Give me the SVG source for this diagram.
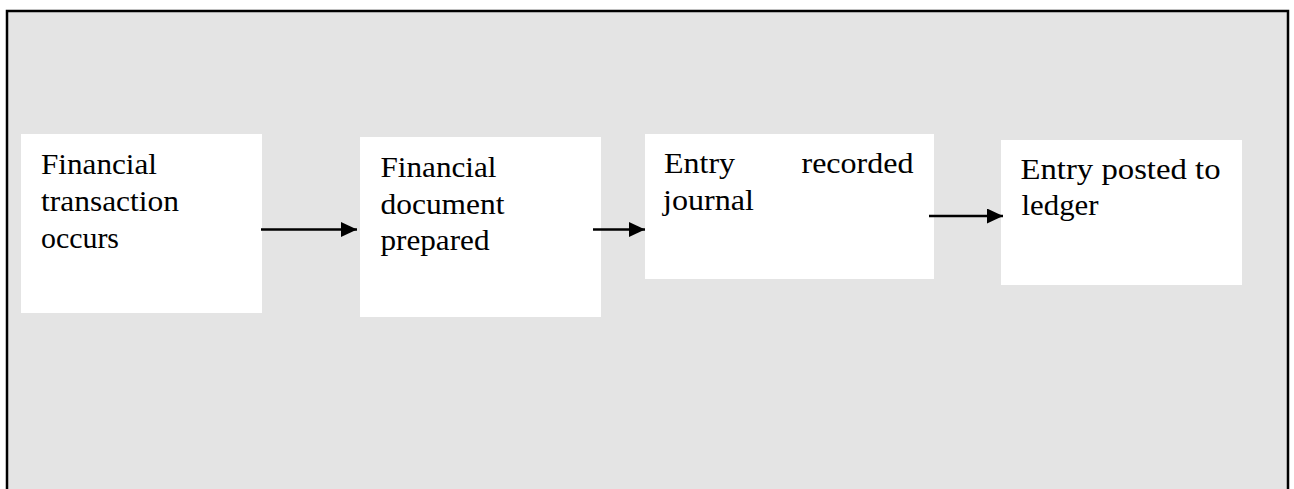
<svg xmlns="http://www.w3.org/2000/svg" width="1294" height="489" viewBox="0 0 1294 489">
<defs>
<style>
.node rect{fill:#ffffff;stroke:none}
.conn line{stroke:#000000;stroke-width:2.5}
</style>
<marker id="arrow" markerUnits="userSpaceOnUse" markerWidth="16" markerHeight="15" refX="16" refY="7.5" orient="auto">
<path d="M0,0 L16,7.5 L0,15 Z" fill="#000000"/>
</marker>
</defs>
<rect x="0" y="0" width="1294" height="489" fill="#ffffff"/>
<rect id="frame" x="7" y="11" width="1281" height="500" fill="#e4e4e4" stroke="#000000" stroke-width="2.5"/>
<g font-family="Times New Roman, Liberation Serif, serif" font-size="30" fill="#000000">
<g id="n1" class="node">
<rect x="21" y="134" width="241" height="179"/>
<text x="41" y="173.5" textLength="116" lengthAdjust="spacingAndGlyphs">Financial</text>
<text x="41" y="210.5" textLength="138" lengthAdjust="spacingAndGlyphs">transaction</text>
<text x="41" y="247.5" textLength="78" lengthAdjust="spacingAndGlyphs">occurs</text>
</g>
<g id="n2" class="node">
<rect x="360" y="137" width="241" height="180"/>
<text x="380.5" y="177" textLength="116" lengthAdjust="spacingAndGlyphs">Financial</text>
<text x="380.5" y="213.5" textLength="124" lengthAdjust="spacingAndGlyphs">document</text>
<text x="380.5" y="250" textLength="109" lengthAdjust="spacingAndGlyphs">prepared</text>
</g>
<g id="n3" class="node">
<rect x="645" y="134" width="289" height="145"/>
<text x="664" y="173" textLength="71" lengthAdjust="spacingAndGlyphs">Entry</text>
<text x="801.5" y="173" textLength="112" lengthAdjust="spacingAndGlyphs">recorded</text>
<text x="663" y="210" textLength="91" lengthAdjust="spacingAndGlyphs">journal</text>
</g>
<g id="n4" class="node">
<rect x="1001" y="140" width="241" height="145"/>
<text x="1020.5" y="178.5" textLength="200" lengthAdjust="spacingAndGlyphs">Entry posted to</text>
<text x="1021.5" y="214.5" textLength="77" lengthAdjust="spacingAndGlyphs">ledger</text>
</g>
</g>
<g id="connectors" class="conn">
<line x1="261" y1="229.5" x2="357" y2="229.5" marker-end="url(#arrow)"/>
<line x1="593" y1="229.5" x2="645" y2="229.5" marker-end="url(#arrow)"/>
<line x1="929" y1="216" x2="1003" y2="216" marker-end="url(#arrow)"/>
</g>
</svg>
